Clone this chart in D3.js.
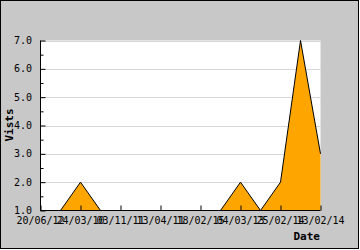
<!DOCTYPE html>
<html><head><meta charset="utf-8">
<script src="https://cdn.jsdelivr.net/npm/d3@7"></script>
<style>body{margin:0;background:#fff}svg{display:block}</style>
</head><body>
<script>
const categories = ["20/06/12","","24/03/10","","03/11/11","","13/04/11","","18/02/15","","04/03/13","","25/02/14","","13/02/14"];
const visits = [1,1,2,1,1,1,1,1,1,1,2,1,2,7,3];
const yTicks = [1,2,3,4,5,6,7];

const W=360,H=250;
const svg=d3.select("body").append("svg").attr("width",W).attr("height",H);
svg.append("rect").attr("x",0.5).attr("y",0.5).attr("width",358).attr("height",248)
  .attr("fill","#c8c8c8").attr("stroke","#000");

const L=40.5,R=320.5,T=40.5,B=210.5;
const idx=d3.range(visits.length);
const x=d3.scalePoint().domain(idx).range([L,R]);
const y=d3.scaleLinear().domain([1,7]).range([B,T]);

svg.append("rect").attr("x",L).attr("y",T).attr("width",R-L).attr("height",B-T).attr("fill","#fff");

// grid
svg.append("g").selectAll("line").data(yTicks.slice(1)).join("line")
  .attr("x1",L).attr("x2",R).attr("y1",d=>Math.round(y(d))+0.5).attr("y2",d=>Math.round(y(d))+0.5)
  .attr("stroke","#d8d8d8");

// area
const area=d3.area().x(d=>x(d)).y0(B).y1(d=>y(visits[d]));
svg.append("path").datum(idx).attr("d",area).attr("fill","#ffa500");
const line=d3.line().x(d=>x(d)).y(d=>y(visits[d]));
svg.append("path").datum(idx).attr("d",line).attr("fill","none").attr("stroke","#000").attr("stroke-width",1);

const font="'DejaVu Sans Mono', monospace";
// y axis
const ya=svg.append("g").attr("transform",`translate(${L},0)`)
  .call(d3.axisRight(y).tickValues(yTicks).tickSize(5).tickFormat(""));
ya.select(".domain").remove();
svg.append("g").attr("transform",`translate(${L},0)`)
  .call(d3.axisRight(y).tickValues(d3.range(1.5,7,1)).tickSize(3).tickFormat(""))
  .select(".domain").remove();
svg.append("g").selectAll("text").data(yTicks).join("text")
  .attr("x",32).attr("y",d=>y(d)).attr("dy","0.35em").attr("text-anchor","end")
  .attr("font-family",font).attr("font-size",10).attr("fill","#000")
  .text(d=>d.toFixed(1));
svg.append("line").attr("x1",L).attr("x2",L).attr("y1",T).attr("y2",B).attr("stroke","#000");

// x axis
const xa=svg.append("g").attr("transform",`translate(0,${B})`)
  .call(d3.axisTop(x).tickValues(idx.filter(i=>i%2===0)).tickSize(5).tickFormat(""));
xa.select(".domain").remove();
svg.append("g").selectAll("text").data(idx.filter(i=>i%2===0)).join("text")
  .attr("x",d=>x(d)).attr("y",224).attr("text-anchor","middle")
  .attr("font-family",font).attr("font-size",10).attr("fill","#000")
  .text(d=>categories[d]);
svg.append("line").attr("x1",L).attr("x2",R).attr("y1",B).attr("y2",B).attr("stroke","#000");

svg.append("text").attr("transform","translate(13,125) rotate(-90)").attr("text-anchor","middle")
  .attr("font-family",font).attr("font-size",11).attr("font-weight","bold").text("Vists");
svg.append("text").attr("x",320).attr("y",240).attr("text-anchor","end")
  .attr("font-family",font).attr("font-size",11).attr("font-weight","bold").text("Date");
</script>
</body></html>
